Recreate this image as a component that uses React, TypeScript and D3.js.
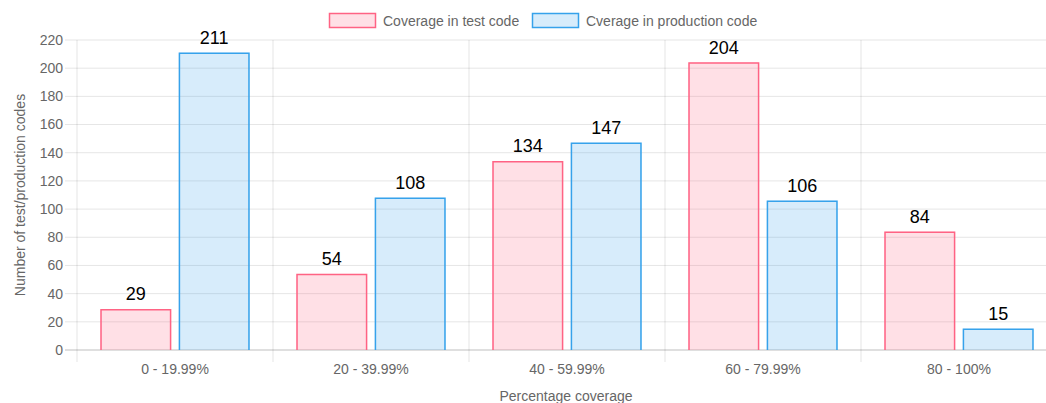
import React from 'react';
import * as d3 from 'd3';

const categories = ['0 - 19.99%', '20 - 39.99%', '40 - 59.99%', '60 - 79.99%', '80 - 100%'];
const testCoverage = [29, 54, 134, 204, 84];
const prodCoverage = [211, 108, 147, 106, 15];
const yTicks = [0, 20, 40, 60, 80, 100, 120, 140, 160, 180, 200, 220];
const seriesNames = ['Coverage in test code', 'Cverage in production code'];

const W = 1046;
const H = 403;
const FONT = '"Liberation Sans", Arial, Helvetica, sans-serif';
const fills = ['rgba(255,99,132,0.2)', 'rgba(54,162,235,0.2)'];
const strokes = ['rgb(255,99,132)', 'rgb(54,162,235)'];

const App = () => {
  const left = 77;
  const right = 1057; // plot extends past the visible edge
  const top = 40;
  const bottom = 350;

  const x = d3.scaleBand().domain(categories).range([left, right]).paddingInner(0).paddingOuter(0);
  const inner = d3.scaleBand().domain(['0', '1']).range([0, x.bandwidth() * 0.8]).paddingInner(0.1).paddingOuter(0.05);
  const y = d3.scaleLinear().domain([0, 220]).range([bottom, top]);

  const series = [testCoverage, prodCoverage];
  const boundaries = categories.map((c) => x(c)!).concat([right]);

  return (
    <svg width={W} height={H} style={{ position: 'absolute', left: 0, top: 0, fontFamily: FONT }}>
      {/* grid */}
      {yTicks.map((t) => (
        <line key={'g' + t} x1={left - 12} x2={right} y1={y(t)} y2={y(t)}
          stroke={t === 0 ? 'rgba(0,0,0,0.25)' : 'rgba(0,0,0,0.1)'} />
      ))}
      {boundaries.map((b, i) => (
        <line key={'v' + i} x1={b} x2={b} y1={top} y2={bottom + 12} stroke="rgba(0,0,0,0.1)" />
      ))}
      {yTicks.map((t) => (
        <text key={'t' + t} x={left - 14} y={y(t)} dy="0.35em" textAnchor="end" fontSize={14} fill="#666">{t}</text>
      ))}
      {categories.map((c) => (
        <text key={'c' + c} x={x(c)! + x.bandwidth() / 2} y={369} dy="0.35em" textAnchor="middle" fontSize={14} fill="#666">{c}</text>
      ))}
      {/* bars */}
      {categories.map((c, ci) =>
        series.map((s, si) => {
          const x0 = x(c)! + x.bandwidth() * 0.1 + inner(String(si))!;
          const w = inner.bandwidth();
          const y0 = y(s[ci]);
          return (
            <g key={c + si}>
              <rect x={x0} y={y0} width={w} height={bottom - y0} fill={fills[si]} />
              <path d={`M${x0 + 0.5},${bottom} V${y0 + 0.5} H${x0 + w - 0.5} V${bottom}`} fill="none" stroke={strokes[si]} strokeWidth={1.5} />
              <text x={x0 + w / 2} y={y0 - 9} textAnchor="middle" fontSize={18} fill="#000">{s[ci]}</text>
            </g>
          );
        })
      )}
      {/* axis titles */}
      <text x={566} y={396} dy="0.35em" textAnchor="middle" fontSize={14} fill="#666">Percentage coverage</text>
      <text transform={`translate(20,195) rotate(-90)`} dy="0.35em" textAnchor="middle" fontSize={14} fill="#666">Number of test/production codes</text>
      {/* legend */}
      {[329, 532].map((lx, i) => (
        <g key={'l' + i}>
          <rect x={lx + 0.5} y={13.5} width={46} height={14} fill={fills[i]} stroke={strokes[i]} strokeWidth={1.5} />
          <text x={lx + 54} y={21} dy="0.35em" fontSize={14} fill="#666">{seriesNames[i]}</text>
        </g>
      ))}
    </svg>
  );
};

export default App;
